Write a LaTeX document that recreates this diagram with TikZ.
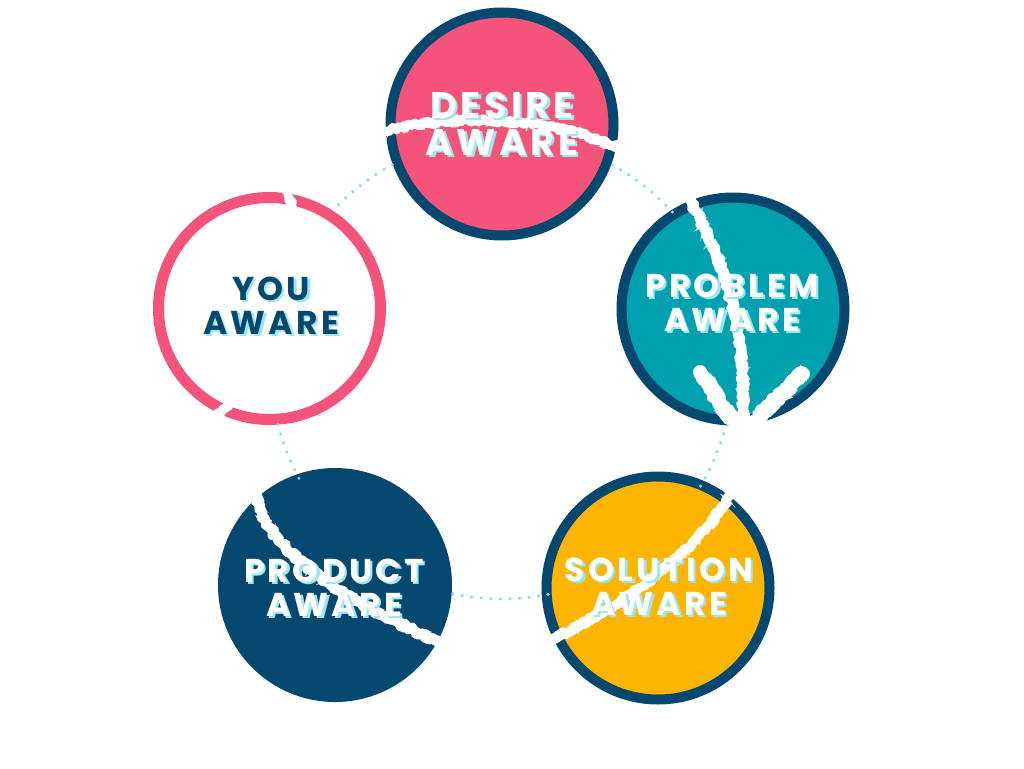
\documentclass[tikz,border=0pt]{standalone}
\usepackage{fontspec}
\newfontfamily\labfont{Poppins}[LetterSpace=10]
\usetikzlibrary{decorations.pathmorphing}
\definecolor{pinkc}{HTML}{F45479}
\definecolor{dblue}{HTML}{04476F}
\definecolor{tealc}{HTML}{00A1AF}
\definecolor{yellowc}{HTML}{FDB501}
\definecolor{dotc}{HTML}{7DDDEE}
\definecolor{shadowc}{HTML}{9BE6F0}
\tikzset{
  ring/.style={circle, inner sep=0pt, outer sep=0pt, minimum size=223pt, line width=10pt},
  dots/.style={draw=dotc, line width=3.4pt, line cap=round, dash pattern=on 0pt off 9.6pt},
  chalkbase/.style={draw=white, line width=#1, line cap=round, line join=round},
  chalkrough/.style={draw=white, line width=#1, line cap=round, line join=round, decorate,
     decoration={random steps, segment length=2pt, amplitude=2.2pt}},
  chalkspeck/.style={draw=white, line width=1.6pt, decorate,
     decoration={random steps, segment length=2.5pt, amplitude=#1}},
  lbl/.style={font=\fontsize{33}{34}\selectfont\labfont\bfseries, align=center, inner sep=0pt},
  biglbl/.style={font=\fontsize{37}{37}\selectfont\labfont\bfseries, align=center, inner sep=0pt},
}
% text with a cyan shadow set 2.5pt to the lower right
\newcommand\glowtxt[2]{\leavevmode\rlap{\kern2.5pt\raisebox{-2pt}{\textcolor{shadowc}{#2}}}\textcolor{#1}{#2}}
\newcommand\chalkstroke[2]{%
  \draw[chalkbase=#1] #2;
  \draw[chalkrough=#1+2] #2;
  \draw[chalkspeck=#1*0.75] #2;
  \draw[chalkspeck=#1*0.6] #2;
}
\pgfmathsetseed{7}
\begin{document}
\begin{tikzpicture}[x=1pt,y=-1pt]
\useasboundingbox (0,0) rectangle (1024,768);
\fill[white] (0,0) rectangle (1024,768);
\coordinate (hub) at (502,368);
% circles
\node[ring, draw=dblue, fill=pinkc] (desire) at (502,124) {};
\node[ring, draw=dblue, fill=tealc] (problem) at (733,309) {};
\node[ring, draw=dblue, fill=yellowc] (solution) at (658,588) {};
\node[ring, draw=none, fill=dblue, minimum size=234pt] (product) at (335,585) {};
\node[ring, draw=pinkc, fill=white, line width=11pt, minimum size=222pt] (you) at (269.5,308.5) {};
% dotted connectors on the hub circle
\draw[dots] (hub) ++(-135:231) arc[start angle=-135, end angle=-118, radius=231];
\draw[dots] (hub) ++(-61.5:231) arc[start angle=-61.5, end angle=-42, radius=231];
\draw[dots] (hub) ++(16.5:231) arc[start angle=16.5, end angle=31, radius=231];
\draw[dots] (hub) ++(78.5:231) arc[start angle=78.5, end angle=104.5, radius=231];
\draw[dots] (hub) ++(151.5:231) arc[start angle=151.5, end angle=166, radius=231];
% chalk strokes
\chalkstroke{7}{(384,132) .. controls (440,116) and (540,112) .. (618,148)}
\chalkstroke{8}{(688,198) .. controls (720,250) and (750,330) .. (742,428)}
\chalkstroke{12}{(700,372) -- (738,428)}
\chalkstroke{12}{(803,374) .. controls (785,390) .. (748,428)}
\chalkstroke{7}{(730,494) .. controls (705,540) and (650,590) .. (552,640)}
\chalkstroke{8}{(256,494) .. controls (262,545) and (340,600) .. (440,642)}
\chalkstroke{6}{(287,191) -- (294,210)}
\chalkstroke{6}{(216,415) -- (231,402)}
% labels
\node[biglbl] (desirel) at (502,125) {\glowtxt{white}{DESIRE}\\\glowtxt{white}{AWARE}};
\node[lbl] (probleml) at (732,304) {\glowtxt{white}{PROBLEM}\\\glowtxt{white}{AWARE}};
\node[lbl] (solutionl) at (659,588) {\glowtxt{white}{SOLUTION}\\\glowtxt{white}{AWARE}};
\node[lbl] (productl) at (334,589) {\glowtxt{white}{PRODUCT}\\\glowtxt{white}{AWARE}};
\node[lbl] (youl) at (271,307) {\glowtxt{dblue}{YOU}\\\glowtxt{dblue}{AWARE}};
\end{tikzpicture}
\end{document}
